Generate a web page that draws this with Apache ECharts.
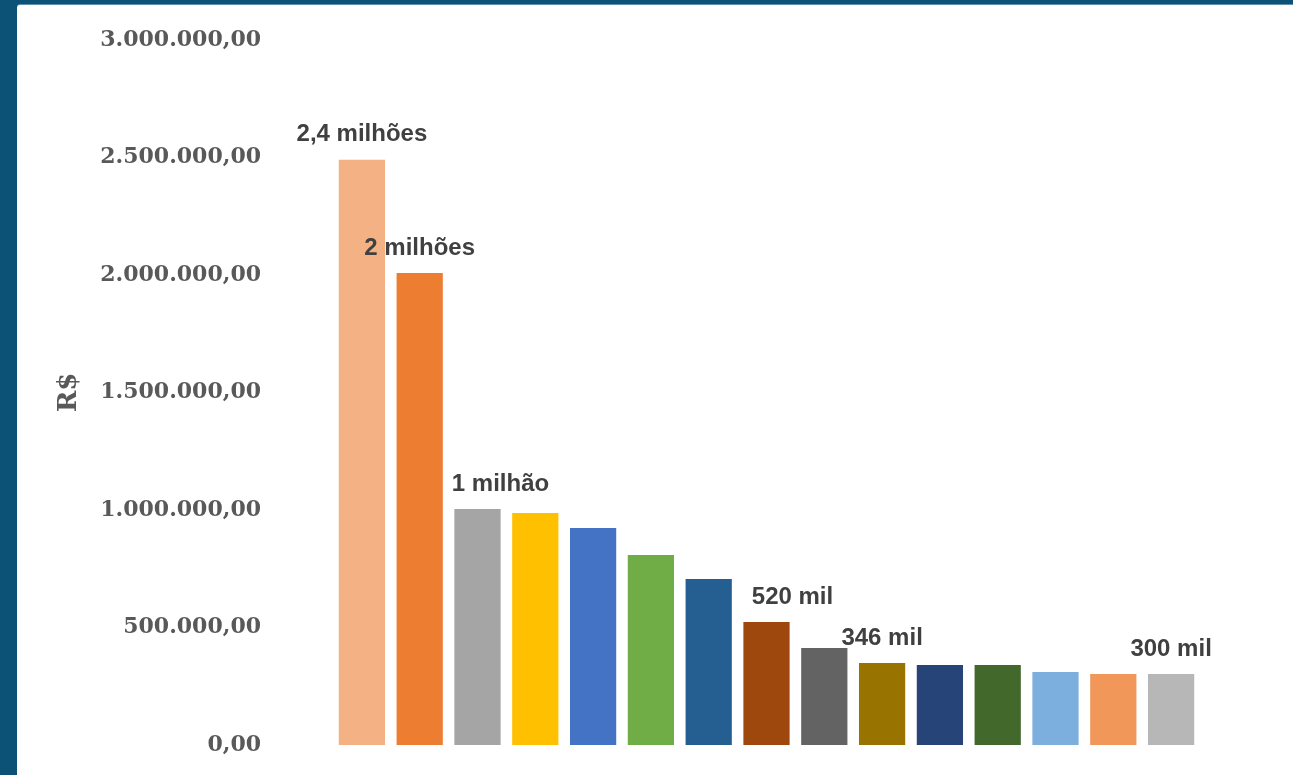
<!DOCTYPE html>
<html>
<head>
<meta charset="utf-8">
<script src="https://cdn.jsdelivr.net/npm/echarts@6/dist/echarts.min.js"></script>
<style>
  html, body { margin: 0; padding: 0; width: 1293px; height: 775px; overflow: hidden; background: #0c5277; }
  #panel { position: absolute; left: 17px; top: 5px; right: 0; bottom: 0; background: #ffffff; border-top-left-radius: 3px; box-shadow: 0 -1px 0 #5f8fab; }
  #chart { position: absolute; left: 0; top: 0; width: 1293px; height: 775px; }
</style>
</head>
<body>
<div id="panel"></div>
<div id="chart"></div>
<script>
const categories = ['C1','C2','C3','C4','C5','C6','C7','C8','C9','C10','C11','C12','C13','C14','C15'];
const values = [2490000, 2008000, 1004000, 987000, 923000, 808000, 706000, 523000, 413000, 349000, 340000, 340000, 311000, 302000, 302000];
const barLabels = ['2,4 milhões', '2 milhões', '1 milhão', '', '', '', '', '520 mil', '', '346 mil', '', '', '', '', '300 mil'];
const yTickMin = 0, yTickMax = 3000000, yTickStep = 500000;
const axisTitle = 'R$';

const barColors = ['#F4B183','#ED7D31','#A5A5A5','#FFC000','#4472C4','#70AD47','#255E91','#9E480E','#636363','#997300','#264478','#43682B','#7CAFDD','#F1975A','#B7B7B7'];
const labelOffsets = [[0,0],[0,0],[23,0],[0,0],[0,0],[0,0],[0,0],[26,0],[0,0],[0,0],[0,0],[0,0],[0,0],[0,0],[0,0]];

function fmtBR(v) {
  const s = Math.round(v).toString().replace(/\B(?=(\d{3})+(?!\d))/g, '.');
  return s + ',00';
}

const chart = echarts.init(document.getElementById('chart'), null, { renderer: 'canvas' });
chart.setOption({
  backgroundColor: 'transparent',
  animation: false,
  grid: { left: 333, right: 93, top: 40, bottom: 30, containLabel: false },
  xAxis: {
    type: 'category',
    data: categories,
    axisLine: { show: false },
    axisTick: { show: false },
    axisLabel: { show: false },
    splitLine: { show: false }
  },
  yAxis: {
    type: 'value',
    min: yTickMin, max: yTickMax, interval: yTickStep,
    axisLine: { show: false },
    axisTick: { show: false },
    splitLine: { show: false },
    axisLabel: {
      formatter: fmtBR,
      margin: 72,
      color: '#595959',
      fontFamily: 'DejaVu Serif',
      fontWeight: 'bold',
      fontSize: 22,
      padding: [5, 0, 0, 0]
    },
    name: axisTitle,
    nameLocation: 'middle',
    nameRotate: 90,
    nameGap: 251,
    nameTextStyle: {
      color: '#595959',
      fontFamily: 'DejaVu Serif',
      fontWeight: 'bold',
      fontSize: 26
    }
  },
  series: [{
    type: 'bar',
    barCategoryGap: '20%',
    data: values.map((v, i) => ({
      value: v,
      itemStyle: { color: barColors[i] },
      label: {
        show: barLabels[i] !== '',
        formatter: barLabels[i],
        position: 'top',
        distance: 13,
        offset: labelOffsets[i],
        color: '#404040',
        fontFamily: 'Liberation Sans, Arial',
        fontWeight: 'bold',
        fontSize: 24
      }
    }))
  }]
});
</script>
</body>
</html>
